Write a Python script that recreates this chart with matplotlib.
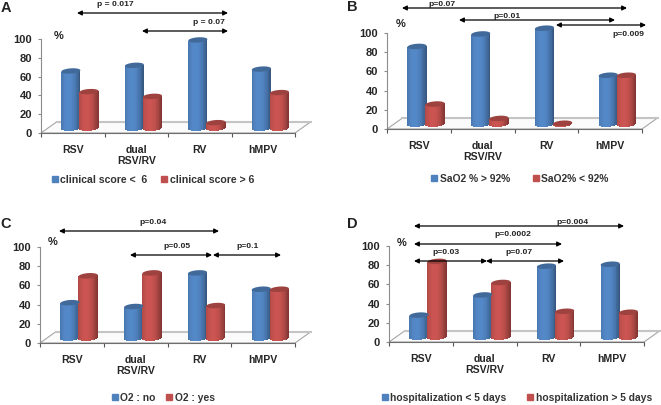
import numpy as np
from matplotlib import pyplot as plt
from matplotlib.patches import Polygon
from matplotlib.lines import Line2D

plt.rcParams['font.family'] = ['Liberation Sans', 'DejaVu Sans']
plt.rcParams['font.weight'] = 'bold'

W, H = 661, 405

categories = ['RSV', 'dual\nRSV/RV', 'RV', 'hMPV']

a_blue = [61, 67, 94, 63]
a_red = [39, 34, 6, 38]
b_blue = [81, 94, 100, 51]
b_red = [21, 6, 1, 51]
c_blue = [37, 33, 68, 51]
c_red = [65, 68, 34, 51]
d_blue = [23, 44, 74, 76]
d_red = [79, 57, 27, 26]

a_labels = ['clinical score <  6', 'clinical score > 6']
b_labels = ['SaO2 % > 92%', 'SaO2% < 92%']
c_labels = ['O2 : no', 'O2 : yes']
d_labels = ['hospitalization < 5 days', 'hospitalization > 5 days']

BLUE = np.array([0x4f, 0x81, 0xbd]) / 255
RED = np.array([0xc0, 0x50, 0x4d]) / 255


def shade(color, u):
    # u from -1 to 1 across the cylinder, light falls a bit left of centre
    light = 1.06 - 0.26 * (u + 0.25) ** 2
    return np.clip(color * light, 0, 1)


def cylinder(ax, x, value, color, width=0.3, base=5, ry=2.8, tilt=0.7):
    n = 24
    edges = np.linspace(-1, 1, n + 1)
    mids = (edges[:-1] + edges[1:]) / 2
    xs = x + mids * width / 2
    bottoms = base - ry * np.sqrt(1 - mids ** 2) + tilt * mids
    tops = base + value + tilt * mids
    cols = [shade(color, u) for u in mids]
    ax.bar(xs, tops - bottoms, bottom=bottoms, width=width / n * 1.25,
           color=cols, linewidth=0, clip_on=False, zorder=3)
    t = np.linspace(0, 2 * np.pi, 60)
    top = np.column_stack([x + np.cos(t) * width / 2,
                           base + value + ry * np.sin(t) + tilt * np.cos(t)])
    ax.add_patch(Polygon(top, closed=True, color=color * 0.82, linewidth=0,
                         clip_on=False, zorder=4))


def panel(left, right, y0, y100, blue, red):
    ax = fig.add_axes([left / W, 1 - y0 / H, (right - left) / W, (y0 - y100) / H])
    ax.set_xlim(0, 4)
    ax.set_ylim(0, 100)
    ax.patch.set_alpha(0)
    unit = (right - left) / 4
    dx = 15.5 / unit
    dy = 11 / (y0 - y100) * 100
    floor = [(0, 0), (4, 0), (4 + dx, dy), (dx, dy)]
    ax.add_patch(Polygon(floor, closed=True, facecolor='#fbfbfb', edgecolor='#a6a6a6',
                         linewidth=0.8, clip_on=False, zorder=1))
    ax.plot([dx, 4 + dx], [dy, dy], color='#c4c4c4', lw=1.5, clip_on=False, zorder=2)
    for i in range(4):
        cylinder(ax, i + 0.47, blue[i], BLUE)
        cylinder(ax, i + 0.755, red[i], RED)
    ax.spines['top'].set_visible(False)
    ax.spines['right'].set_visible(False)
    ax.spines['left'].set_color('#8c8c8c')
    ax.spines['bottom'].set_color('#6e6e6e')
    ax.set_yticks(range(0, 101, 20))
    ax.set_xticks(range(5))
    ax.set_xticklabels([])
    ax.set_xticks(np.arange(4) + 0.5, minor=True)
    ax.set_xticklabels(categories, minor=True, fontsize=7.6, color='#262626')
    ax.tick_params(axis='x', which='major', length=3, color='#555555')
    ax.tick_params(axis='x', which='minor', length=0, pad=8.5)
    ax.tick_params(axis='y', length=2, color='#8c8c8c', labelsize=8, pad=4.5, labelcolor='#262626')
    return ax


def legend(ax, labels, cx, cy, gap, size=7.4):
    handles = [Line2D([], [], marker='s', ls='', ms=4.5, color=c) for c in (BLUE, RED)]
    fig.legend(handles, labels, loc='center', bbox_to_anchor=(cx / W, 1 - cy / H),
               ncol=2, frameon=False, fontsize=size, handlelength=0.6, handletextpad=0.25,
               columnspacing=gap, labelcolor='#333333', borderpad=0, borderaxespad=0)


def arrow(x1, x2, y):
    over.annotate('', xy=(x2, y), xytext=(x1, y),
                  arrowprops=dict(arrowstyle='<|-|>', color='black', lw=0.9,
                                  mutation_scale=7, shrinkA=0, shrinkB=0))


def note(x, y, s, size=6.1):
    over.text(x, y, s, ha='center', va='center', fontsize=size, color='#222222')


fig = plt.figure(figsize=(W / 100, H / 100), dpi=100)

ax_a = panel(41, 295, 133, 39, a_blue, a_red)
ax_b = panel(387, 642, 129, 33, b_blue, b_red)
ax_c = panel(40, 295, 343, 247, c_blue, c_red)
ax_d = panel(389, 644, 342, 246, d_blue, d_red)

legend(ax_a, a_labels, 153, 180, 1.3, 7.6)
legend(ax_b, b_labels, 520, 179, 2.2)
legend(ax_c, c_labels, 163, 398, 1.0)
legend(ax_d, d_labels, 517, 398, 2.0)

# letters, % signs and p value arrows sit in picture pixels on top of the panels
over = fig.add_axes([0, 0, 1, 1])
over.set_xlim(0, W)
over.set_ylim(H, 0)
over.axis('off')

for x, y, s in [(6, 8, 'A'), (352, 7, 'B'), (6, 224, 'C'), (352, 224, 'D')]:
    over.text(x, y, s, ha='center', va='center', fontsize=10.5, color='#222222')
for x, y in [(59, 36), (401, 24), (53, 242), (402, 243)]:
    note(x, y, '%', 8)

arrow(77, 228, 13)
note(115, 5, 'p = 0.017')
arrow(142, 228, 31)
note(209, 22, 'p = 0.07')

arrow(402, 627, 8)
note(442, 5, 'p=0.07')
arrow(459, 615, 20)
note(507, 17, 'p=0.01')
arrow(556, 646, 25)
note(628, 34, 'p=0.009')

arrow(59, 219, 231)
note(153, 223, 'p=0.04')
arrow(130, 212, 255)
note(177, 247, 'p=0.05')
arrow(213, 281, 255)
note(248, 247, 'p=0.1')

arrow(414, 624, 226)
note(572, 222, 'p=0.004')
arrow(414, 562, 244)
note(513, 235, 'p=0.0002')
arrow(414, 487, 261)
note(446, 253, 'p=0.03')
arrow(486, 564, 261)
note(519, 253, 'p=0.07')

fig.savefig('out.png', dpi=100)
